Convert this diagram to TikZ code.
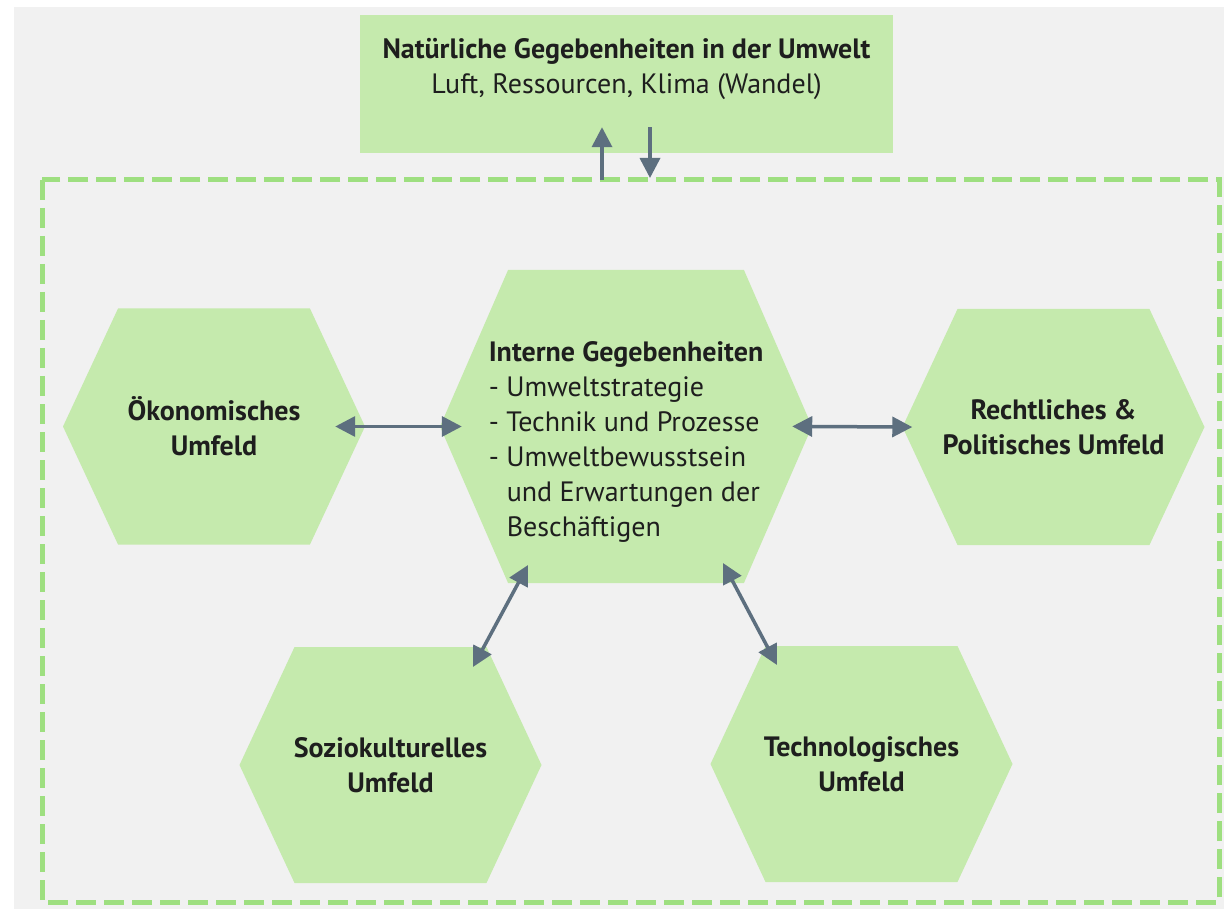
\documentclass[tikz,border=0pt]{standalone}
\usepackage{fontspec}
\setmainfont{PT Sans}
\usepackage{tikz}
\usetikzlibrary{arrows.meta,shapes.symbols,positioning}

\definecolor{hexgruen}{HTML}{C5EAAD}
\definecolor{rahmengruen}{HTML}{9EDF80}
\definecolor{pfeilgrau}{HTML}{5D6F7F}
\definecolor{hintergrund}{HTML}{F1F1F1}
\definecolor{schrift}{HTML}{1E1E1E}

\begin{document}
\begin{tikzpicture}[x=1pt,y=-1pt,>={Triangle[length=20pt,width=20pt]},
	umfeld/.style={signal,signal to=east and west,signal pointer angle=130,fill=hexgruen,
		minimum width=302pt,minimum height=236pt,inner ysep=0pt,inner xsep=-30pt,
		font=\fontsize{28}{35}\selectfont\bfseries}]
	\useasboundingbox (0,0) rectangle (1224,909);
	\fill[white] (0,0) rectangle (1224,909);
	\fill[hintergrund] (14,7) rectangle (1224,909);
	\draw[rahmengruen,line width=5pt,dash pattern=on 20pt off 8pt] (42,180) rectangle (1219,902);
	\tikzset{every node/.style={text=schrift,align=center}}
	\node[fill=hexgruen,minimum width=533pt,minimum height=138pt,text depth=36pt,
		font=\fontsize{28}{35}\selectfont] (natur) at (626.5,84)
		{\textbf{Natürliche Gegebenheiten in der Umwelt}\\Luft, Ressourcen, Klima (Wandel)};
	\node[umfeld] (oeko)   at (214,426.5)  {Ökonomisches\\Umfeld};
	\node[umfeld,minimum width=372pt,minimum height=313pt,signal pointer angle=133,
		align=left,text height=226pt,font=\fontsize{28}{35}\selectfont] (intern) at (626,426.5)
		{\textbf{Interne Gegebenheiten}\\- Umweltstrategie\\- Technik und Prozesse\\- Umweltbewusstsein\\
		\hspace*{18pt}und Erwartungen der\\\hspace*{18pt}Beschäftigen};
	\node[umfeld] (recht)  at (1053.5,427) {Rechtliches \&\\Politisches Umfeld};
	\node[umfeld] (sozio)  at (390.5,765)  {Soziokulturelles\\Umfeld};
	\node[umfeld] (techno) at (861.5,764)  {Technologisches\\Umfeld};
	\coordinate (hoch)   at (602,180);
	\coordinate (runter) at (650,180);
	\tikzset{pfeil/.style={draw=pfeilgrau,line width=3.5pt}}
	\path
	(hoch)                  edge [pfeil,->,shorten >=-26pt]                (hoch |- natur.south)
	(runter |- natur.south) edge [pfeil,->,shorten <=-26pt,shorten >=2pt]  (runter)
	(oeko.east)             edge [pfeil,<->,shorten <=-30pt,shorten >=-22pt] (intern.west)
	(intern.east)           edge [pfeil,<->,shorten <=-20pt,shorten >=-10pt] (recht.west)
	([shift={(-98,138.5)}]intern.center) edge [pfeil,<->] ([shift={(82.5,-98)}]sozio.center)
	([shift={(97,136.5)}]intern.center)  edge [pfeil,<->] ([shift={(-84.5,-99)}]techno.center);
\end{tikzpicture}
\end{document}
